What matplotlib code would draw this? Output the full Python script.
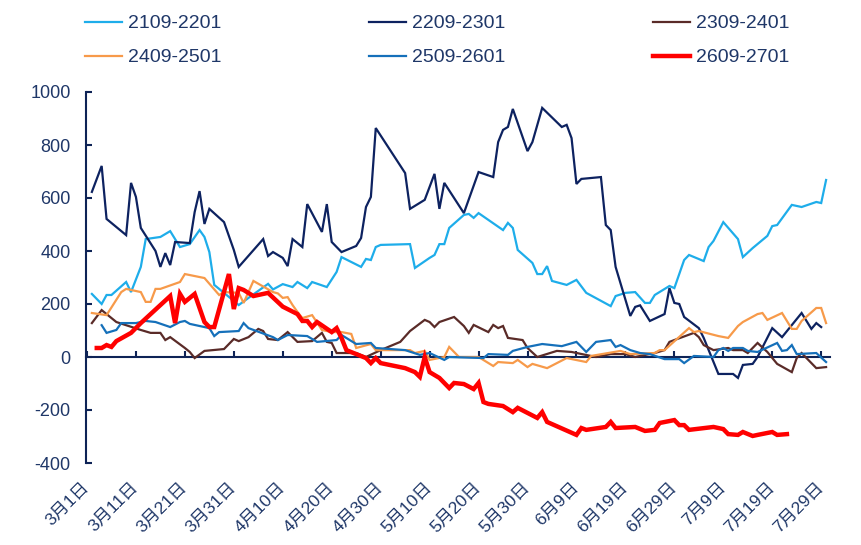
import datetime
import matplotlib
matplotlib.use('Agg')
import matplotlib.pyplot as plt

plt.rcParams['font.family'] = ['Liberation Sans', 'Noto Sans CJK SC', 'DejaVu Sans']
plt.rcParams['axes.unicode_minus'] = False

# day offsets from 3月1日 and spread values
days_2109 = [1, 3, 4, 5, 8, 9, 11, 12, 15, 17, 19, 21, 23, 24, 25, 26, 28, 31, 33, 37, 38, 40, 42, 43, 45, 46, 49, 51, 52,
             56, 57, 58, 59, 60, 66, 67, 70, 71, 72, 73, 74, 77, 78, 79, 80, 85, 86, 87, 88, 91, 92, 93, 94, 95, 98,
             100, 102, 107, 108, 110, 112, 114, 115, 116, 119, 120, 122, 123, 126, 127, 128, 130, 133, 134, 136, 139,
             140, 141, 144, 146, 149, 150, 151]
vals_2109 = [238, 200, 234, 234, 283, 245, 340, 445, 453, 475, 415, 426, 479, 453, 396, 272, 242, 196, 223, 276, 255, 275,
             264, 283, 260, 283, 264, 321, 377, 340, 370, 366, 415, 423, 426, 336, 374, 385, 426, 426, 487, 536, 540,
             525, 543, 479, 506, 487, 404, 355, 313, 313, 343, 287, 272, 291, 242, 192, 230, 242, 245, 204, 204, 234,
             268, 260, 366, 385, 362, 415, 438, 509, 445, 377, 411, 457, 494, 498, 574, 566, 585, 581, 668]

days_2209 = [1, 3, 4, 8, 9, 10, 11, 14, 15, 16, 17, 18, 21, 22, 23, 24, 25, 28, 30, 31, 36, 37, 38, 40, 41, 42, 44, 45,
             48, 49, 50, 52, 55, 56, 57, 58, 59, 65, 66, 69, 71, 72, 73, 77, 80, 83, 84, 85, 86, 87, 90, 91, 93, 97,
             98, 99, 100, 101, 105, 106, 107, 108, 111, 112, 113, 115, 118, 119, 120, 121, 122, 125, 126, 129, 132,
             133, 134, 136, 137, 140, 142, 146, 148, 149, 150]
vals_2209 = [623, 721, 521, 460, 657, 604, 487, 400, 340, 392, 347, 434, 430, 547, 626, 502, 559, 509, 404, 340, 445, 381,
             396, 374, 343, 445, 415, 577, 472, 577, 434, 396, 419, 449, 566, 604, 864, 694, 559, 593, 691, 559, 657,
             543, 698, 679, 811, 857, 868, 936, 777, 811, 940, 868, 876, 826, 653, 672, 679, 498, 479, 340, 155, 189,
             195, 136, 162, 260, 204, 200, 151, 109, 72, -64, -64, -79, -30, -26, 0, 109, 75, 166, 106, 128, 113]

days_2309 = [1, 3, 6, 11, 13, 15, 16, 17, 20, 21, 22, 24, 28, 30, 31, 33, 35, 36, 37, 39, 41, 43, 46, 48, 49, 50, 51,
             55, 57, 60, 64, 66, 69, 70, 71, 72, 75, 77, 78, 79, 82, 83, 84, 85, 86, 89, 90, 92, 96, 99, 104, 107,
             110, 112, 113, 116, 118, 119, 120, 124, 125, 126, 128, 131, 132, 134, 135, 137, 139, 141, 144, 145, 146,
             149, 151]
vals_2309 = [128, 177, 132, 102, 91, 91, 64, 75, 34, 19, -4, 23, 30, 68, 60, 75, 106, 98, 68, 64, 94, 57, 60, 91, 57, 53,
             15, 15, 0, 26, 57, 98, 140, 132, 113, 132, 151, 117, 91, 121, 94, 121, 109, 117, 72, 64, 34, 0, 23, 19, 0,
             11, 11, 0, 4, 15, 26, 57, 64, 91, 75, 45, 26, 34, 26, 26, 15, 53, 19, -26, -57, -4, 15, -42, -38]

days_2409 = [1, 4, 7, 8, 11, 12, 13, 14, 15, 19, 20, 24, 27, 28, 31, 32, 34, 38, 39, 40, 41, 42, 43, 44, 46, 48, 50,
             52, 54, 55, 58, 59, 66, 67, 69, 70, 73, 74, 76, 80, 83, 84, 87, 88, 90, 91, 94, 98, 102, 103, 109, 111,
             116, 117, 118, 123, 124, 125, 129, 131, 133, 134, 137, 138, 139, 142, 144, 145, 146, 149, 150, 151]
vals_2409 = [166, 158, 245, 257, 245, 208, 208, 257, 257, 283, 313, 298, 234, 245, 242, 204, 287, 245, 240, 223, 226, 196,
             170, 147, 158, 102, 94, 94, 87, 34, 49, 26, 26, 15, 23, -11, 0, 38, 0, 0, -34, -19, -23, -11, -38, -26,
             -42, -4, -19, 4, 23, 11, 15, 26, 26, 109, 94, 98, 79, 72, 117, 132, 162, 166, 140, 166, 106, 106, 136,
             185, 185, 128]

days_2509 = [3, 4, 6, 7, 10, 12, 14, 17, 19, 20, 21, 25, 26, 27, 31, 32, 33, 38, 39, 41, 45, 47, 51, 52, 55, 58, 59,
             65, 68, 70, 73, 74, 81, 82, 86, 87, 90, 93, 97, 100, 102, 104, 107, 108, 109, 111, 113, 115, 118, 121,
             122, 124, 128, 129, 130, 131, 132, 134, 135, 137, 141, 142, 143, 144, 145, 149, 151]
vals_2509 = [120, 91, 102, 128, 128, 136, 132, 113, 132, 136, 125, 109, 79, 94, 98, 128, 109, 75, 64, 83, 79, 57, 64, 83,
             49, 53, 34, 26, 8, 15, -11, 0, -4, 11, 8, 23, 38, 49, 41, 57, 19, 57, 64, 38, 45, 26, 15, 11, -8, -8,
             -23, 4, 0, 26, 34, 23, 34, 34, 23, 19, 53, 23, 26, 45, 11, 15, -19]

days_2609 = [2, 3, 4, 5, 6, 9, 11, 17, 18, 19, 20, 22, 24, 25, 26, 29, 30, 31, 32, 34, 37, 40, 43, 44, 45, 46, 47, 50,
             51, 52, 53, 55, 57, 58, 59, 60, 65, 67, 68, 69, 70, 72, 74, 75, 77, 79, 80, 81, 82, 85, 87, 88, 92, 93,
             94, 100, 101, 102, 106, 107, 108, 112, 114, 116, 117, 120, 121, 122, 123, 128, 130, 131, 133, 134, 136,
             137, 140, 141, 143]
vals_2609 = [34, 34, 45, 38, 60, 91, 128, 230, 128, 238, 208, 238, 132, 113, 113, 313, 181, 260, 253, 230, 242, 190, 162,
             136, 136, 113, 132, 94, 109, 72, 26, 11, -4, -23, -4, -23, -42, -57, -75, 0, -57, -79, -117, -98, -102,
             -121, -98, -170, -177, -185, -208, -192, -230, -208, -245, -294, -268, -275, -264, -245, -268, -264, -279,
             -275, -249, -238, -257, -257, -275, -264, -272, -291, -294, -283, -298, -294, -283, -294, -291]

names = ['2109-2201', '2209-2301', '2309-2401', '2409-2501', '2509-2601', '2609-2701']
colors = ['#1EADEA', '#0D2260', '#5A2B28', '#F79A4A', '#1570BA', '#FF0000']
widths = [1.6, 1.6, 1.6, 1.6, 1.6, 3.2]

tick_days = list(range(0, 151, 10))
base = datetime.date(2025, 3, 1)
tick_labels = []
for d in tick_days:
    t = base + datetime.timedelta(days=d)
    tick_labels.append(f'{t.month}月{t.day}日')

navy = '#0E2356'
txt = '#1F3768'

fig = plt.figure(figsize=(8.61, 5.45), dpi=100)
ax = fig.add_axes([86 / 861, 82 / 545, 744 / 861, 371 / 545])

series = [(days_2109, vals_2109), (days_2209, vals_2209), (days_2309, vals_2309),
          (days_2409, vals_2409), (days_2509, vals_2509), (days_2609, vals_2609)]
handles = []
for (dd, vv), name, c, w in zip(series, names, colors, widths):
    h, = ax.plot(dd, vv, color=c, lw=w, label=name, zorder=3, solid_joinstyle='miter')
    handles.append(h)

ax.set_xlim(-0.2, 151.8)
ax.set_ylim(-400, 1000)
ax.set_yticks(range(-400, 1001, 200))

for s in ['top', 'right', 'bottom']:
    ax.spines[s].set_visible(False)
ax.spines['left'].set_color(navy)
ax.spines['left'].set_linewidth(1.5)
ax.tick_params(axis='y', direction='in', length=4.5, width=1.5, color=navy,
               labelsize=13, labelcolor=txt, pad=11)

ax.set_xticks(tick_days)
ax.set_xticklabels(tick_labels, rotation=45, ha='right', va='center', rotation_mode='anchor')
ax.tick_params(axis='x', length=0, labelsize=12.5, labelcolor=txt, pad=16)

# zero line with its own ticks
zero = ax.secondary_xaxis(400 / 1400)
zero.set_xticks(tick_days)
zero.tick_params(axis='x', direction='in', length=4.5, width=1.5, color=navy, labelbottom=False)
zero.spines['bottom'].set_color(navy)
zero.spines['bottom'].set_linewidth(1.5)

order = [0, 3, 1, 4, 2, 5]
fig.legend([handles[i] for i in order], [names[i] for i in order], ncol=3, frameon=False,
           loc='upper left', bbox_to_anchor=(85 / 861, 0.973), borderaxespad=0, borderpad=0,
           fontsize=14, labelcolor=txt, handlelength=1.9, handletextpad=0.3,
           columnspacing=7.6, labelspacing=0.85)

fig.savefig('out.png', dpi=100)
